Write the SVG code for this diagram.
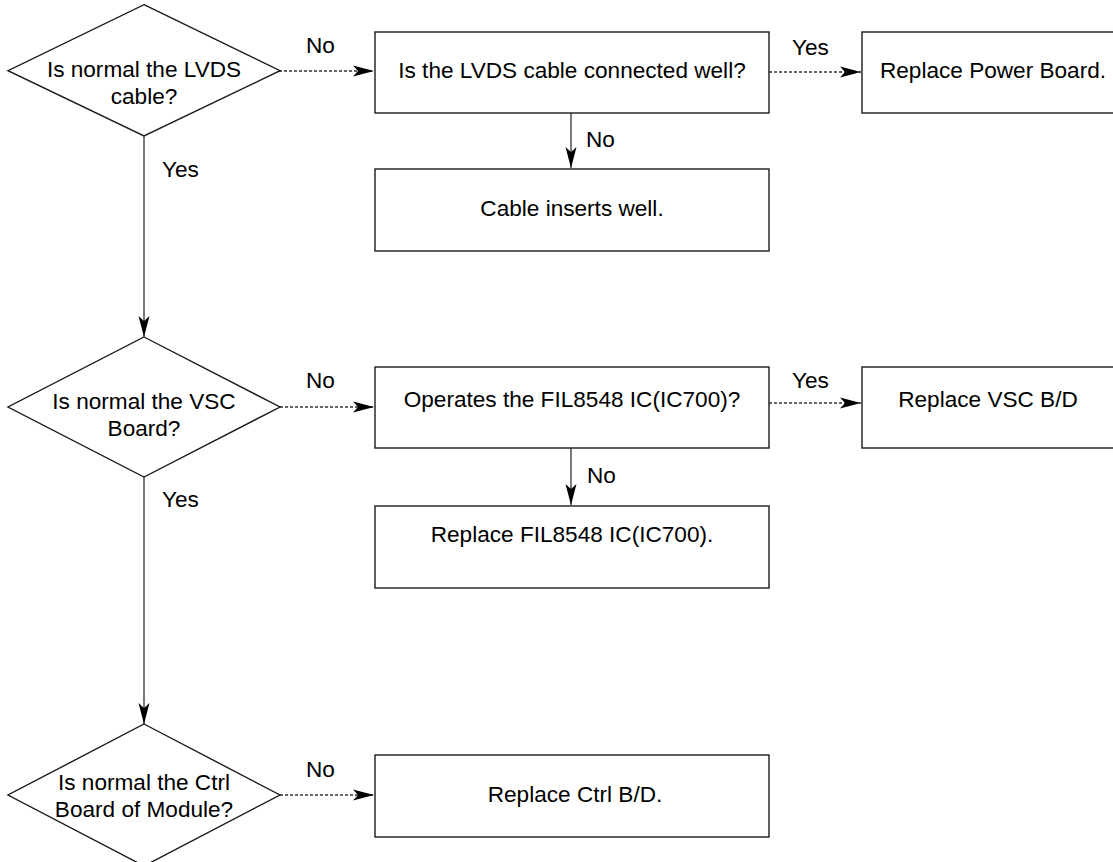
<svg xmlns="http://www.w3.org/2000/svg" width="1113" height="862" viewBox="0 0 1113 862">
<style>
.n{fill:#fff;stroke:#1a1a1a;stroke-width:1.4}
.t{font-family:"Liberation Sans",Arial,sans-serif;font-size:22.6px;fill:#000;text-anchor:middle}
.l{font-family:"Liberation Sans",Arial,sans-serif;font-size:22.6px;fill:#000}
.c{stroke:#333;stroke-width:1.3;fill:none}
.d{stroke:#333;stroke-width:1.3;fill:none;stroke-dasharray:3 2}
</style>
<defs>
<marker id="ah" markerUnits="userSpaceOnUse" markerWidth="24" markerHeight="14" refX="21" refY="7" orient="auto">
<path d="M0,1.5 L21,7 L0,12.5 L5,7 Z" fill="#000"/>
</marker>
</defs>
<rect width="1113" height="862" fill="#fff"/>
<g id="connectors">
<path class="d" d="M279,71 H374" marker-end="url(#ah)"/>
<path class="d" d="M769,72 H861" marker-end="url(#ah)"/>
<path class="c" d="M571,113 V168" marker-end="url(#ah)"/>
<path class="c" d="M144,136 V337" marker-end="url(#ah)"/>
<path class="d" d="M280,407 H374" marker-end="url(#ah)"/>
<path class="d" d="M769,403 H861" marker-end="url(#ah)"/>
<path class="c" d="M571,448 V505" marker-end="url(#ah)"/>
<path class="c" d="M144,477 V724" marker-end="url(#ah)"/>
<path class="d" d="M280,795 H374" marker-end="url(#ah)"/>
</g>
<g id="labels">
<text class="l" x="306" y="53">No</text>
<text class="l" x="792" y="55">Yes</text>
<text class="l" x="586" y="147">No</text>
<text class="l" x="162" y="177">Yes</text>
<text class="l" x="306" y="388">No</text>
<text class="l" x="792" y="388">Yes</text>
<text class="l" x="587" y="483">No</text>
<text class="l" x="162" y="507">Yes</text>
<text class="l" x="306" y="777">No</text>
</g>
<g id="d1">
<polygon class="n" points="144,4.7 280,70.7 144,136 8,70.7"/>
<text class="t" x="144" y="77">Is normal the LVDS</text>
<text class="t" x="144" y="104">cable?</text>
</g>
<g id="b1">
<rect class="n" x="375" y="32" width="394" height="81"/>
<text class="t" x="572" y="78">Is the LVDS cable connected well?</text>
</g>
<g id="b2">
<rect class="n" x="862" y="32" width="258" height="81"/>
<text class="t" x="993" y="78">Replace Power Board.</text>
</g>
<g id="b3">
<rect class="n" x="375" y="169" width="394" height="82"/>
<text class="t" x="572" y="216">Cable inserts well.</text>
</g>
<g id="d2">
<polygon class="n" points="144,337 280,407 144,477 8,407"/>
<text class="t" x="144" y="409">Is normal the VSC</text>
<text class="t" x="144" y="436">Board?</text>
</g>
<g id="b4">
<rect class="n" x="375" y="367" width="394" height="81"/>
<text class="t" x="572" y="407">Operates the FIL8548 IC(IC700)?</text>
</g>
<g id="b5">
<rect class="n" x="862" y="367" width="258" height="81"/>
<text class="t" x="988" y="407">Replace VSC B/D</text>
</g>
<g id="b6">
<rect class="n" x="375" y="506" width="394" height="82"/>
<text class="t" x="572" y="542">Replace FIL8548 IC(IC700).</text>
</g>
<g id="d3">
<polygon class="n" points="144,724 280,795 144,866 8,795"/>
<text class="t" x="144" y="790">Is normal the Ctrl</text>
<text class="t" x="144" y="817">Board of Module?</text>
</g>
<g id="b7">
<rect class="n" x="375" y="755" width="394" height="82"/>
<text class="t" x="575" y="802">Replace Ctrl B/D.</text>
</g>
</svg>
